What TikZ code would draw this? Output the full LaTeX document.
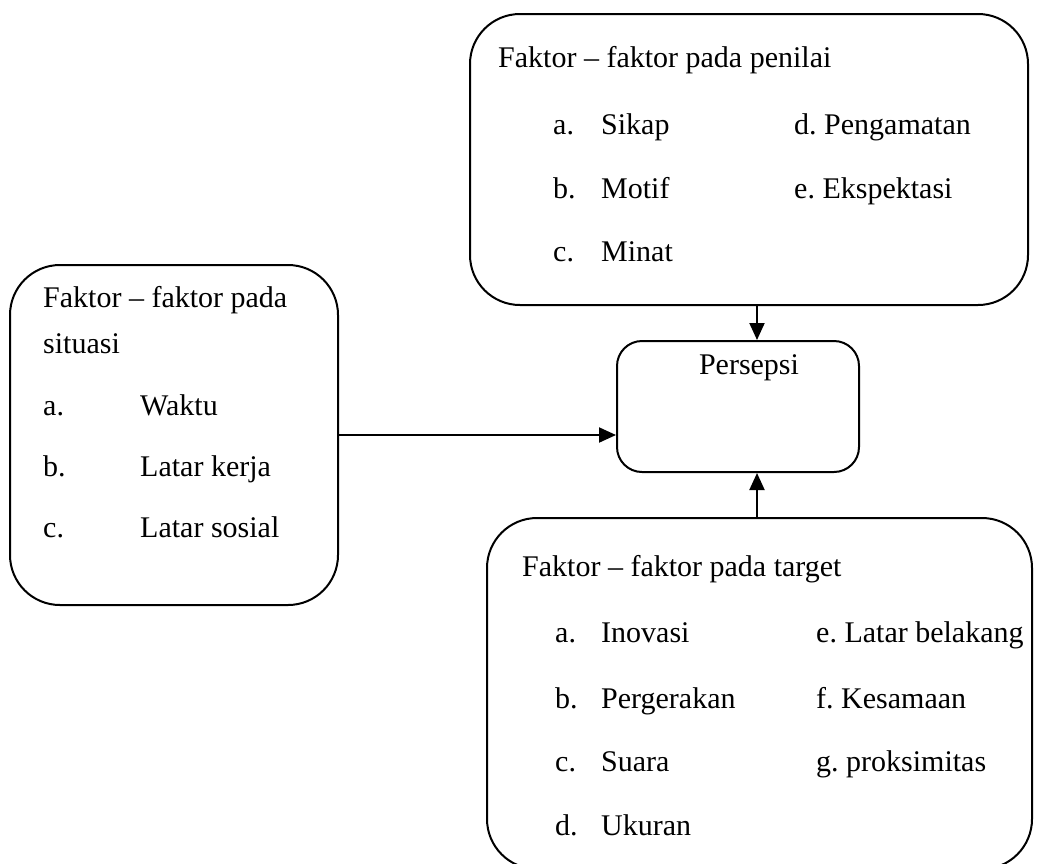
\documentclass[tikz,border=0pt]{standalone}
\usepackage{fontspec}
\setmainfont{Liberation Serif}
\usetikzlibrary{arrows.meta}
\frenchspacing
\begin{document}
\begin{tikzpicture}[x=1pt,y=-1pt,
  box/.style={draw=black, line width=2pt, rectangle, rounded corners=#1, inner sep=0pt},
  txt/.style={anchor=base west, inner sep=0pt, font=\fontsize{30}{36}\selectfont},
  arr/.style={line width=2pt, -{Triangle[length=17pt,width=15pt]}}]
\useasboundingbox (0,0) rectangle (1043,863);
% boxes
\node[box=50pt, minimum width=558pt, minimum height=291pt] (penilai) at (749,159.5) {};
\node[box=50pt, minimum width=328pt, minimum height=340pt] (situasi) at (174,435) {};
\node[box=25pt, minimum width=242pt, minimum height=131pt] (persepsi) at (738,406.5) {};
\node[box=50pt, minimum width=545pt, minimum height=351pt] (target) at (759.5,693.5) {};
% persepsi label
\node[txt, anchor=base] (tpersepsi) at (749,374) {Persepsi};
% penilai texts
\node[txt] (p0) at (498,67) {Faktor – faktor pada penilai};
\node[txt] (pa) at (553,134) {a.};
\node[txt] (pa2) at (601,134) {Sikap};
\node[txt] (pd) at (794,134) {d. Pengamatan};
\node[txt] (pb) at (553,198) {b.};
\node[txt] (pb2) at (601,198) {Motif};
\node[txt] (pe) at (794,198) {e. Ekspektasi};
\node[txt] (pc) at (553,261) {c.};
\node[txt] (pc2) at (601,261) {Minat};
% situasi texts
\node[txt] (s0) at (43,307) {Faktor – faktor pada};
\node[txt] (s1) at (43,353) {situasi};
\node[txt] (sa) at (43,415) {a.};
\node[txt] (sa2) at (140,415) {Waktu};
\node[txt] (sb) at (43,476) {b.};
\node[txt] (sb2) at (140,476) {Latar kerja};
\node[txt] (sc) at (43,537) {c.};
\node[txt] (sc2) at (140,537) {Latar sosial};
% target texts
\node[txt] (t0) at (522,576) {Faktor – faktor pada target};
\node[txt] (ta) at (555,642) {a.};
\node[txt] (ta2) at (601,642) {Inovasi};
\node[txt] (te) at (816,642) {e. Latar belakang};
\node[txt] (tb) at (555,708) {b.};
\node[txt] (tb2) at (601,708) {Pergerakan};
\node[txt] (tf) at (816,708) {f. Kesamaan};
\node[txt] (tc) at (555,771) {c.};
\node[txt] (tc2) at (601,771) {Suara};
\node[txt] (tg) at (816,771) {g. proksimitas};
\node[txt] (td) at (555,835) {d.};
\node[txt] (td2) at (601,835) {Ukuran};
% connectors
\coordinate (ax) at (757,0);
\draw[arr] (penilai.south -| ax) -- (persepsi.north -| ax);
\draw[arr] (target.north -| ax) -- (persepsi.south -| ax);
\draw[arr] (situasi.east) -- (situasi.east -| persepsi.west);
\end{tikzpicture}
\end{document}
